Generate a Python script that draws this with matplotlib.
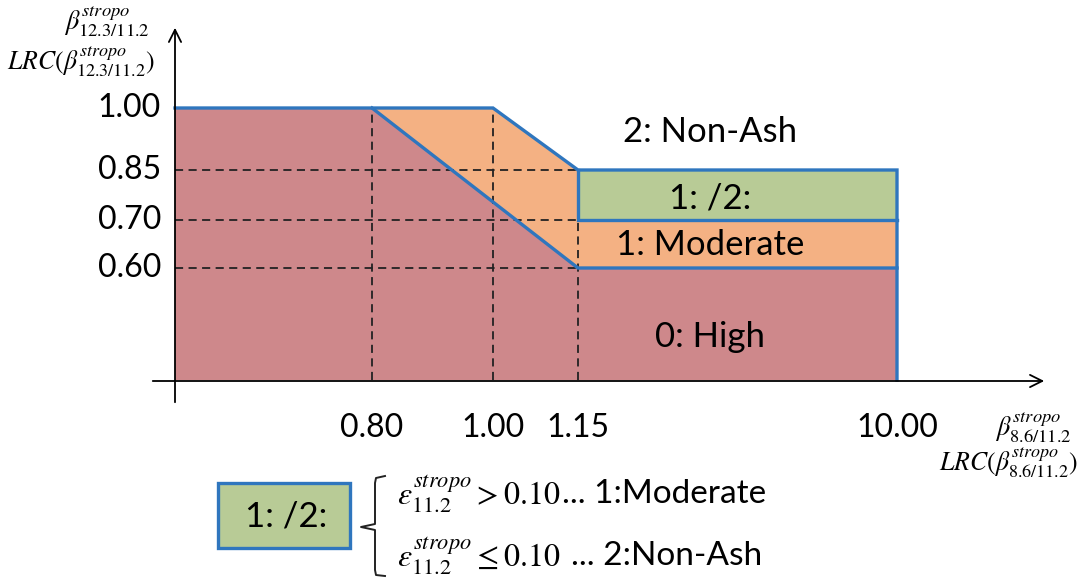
import numpy as np
import matplotlib
matplotlib.use("Agg")
import matplotlib.pyplot as plt

plt.rcParams['font.family'] = ['Lato', 'DejaVu Sans']
plt.rcParams['mathtext.fontset'] = 'stix'

### values of the diagram (schematic thresholds)
x_ticks = [0.80, 1.00, 1.15, 10.00]
y_ticks = [0.60, 0.70, 0.85, 1.00]
x_labels = ['0.80', '1.00', '1.15', '10.00']
y_labels = ['0.60', '0.70', '0.85', '1.00']

# region boundaries (x, y) in threshold units
high_x = [0.0, 0.80, 1.15, 10.00, 10.00, 0.0]
high_y = [1.00, 1.00, 0.60, 0.60, 0.0, 0.0]
mod_x = [0.80, 1.00, 1.15, 1.15, 10.00, 10.00, 1.15]
mod_y = [1.00, 1.00, 0.85, 0.70, 0.70, 0.60, 0.60]
mix_x = [1.15, 10.00, 10.00, 1.15]
mix_y = [0.85, 0.85, 0.70, 0.70]

region_labels = ['2: Non-Ash', '1: /2:', '1: Moderate', '0: High']
label_y = [0.942, 0.766, 0.648, 0.23]

# colours
c_high = '#CE888B'
c_mod = '#F4B183'
c_mix = '#B8CB96'
c_line = '#2F76BE'

W, H = 1083, 583
fig = plt.figure(figsize=(W / 100, H / 100), dpi=100)


def piecewise(d, p):
    d = np.asarray(d, float)
    p = np.asarray(p, float)

    def f(v):
        v = np.asarray(v, float)
        out = np.interp(v, d, p)
        out = np.where(v < d[0], p[0] + (v - d[0]) * (p[1] - p[0]) / (d[1] - d[0]), out)
        out = np.where(v > d[-1], p[-1] + (v - d[-1]) * (p[-1] - p[-2]) / (d[-1] - d[-2]), out)
        return out
    return f


# schematic (non-linear) axis spacing, mapped to figure pixels
x_anchor = [0.0] + x_ticks
x_pix = [175, 372, 493, 578, 897]
y_anchor = [0.0] + y_ticks
y_pix = [H - 380, H - 268, H - 220, H - 170, H - 108]

fx, fx_inv = piecewise(x_anchor, x_pix), piecewise(x_pix, x_anchor)
fy, fy_inv = piecewise(y_anchor, y_pix), piecewise(y_pix, y_anchor)

ax = fig.add_axes([0, 0, 1, 1])
ax.set_xscale('function', functions=(fx, fx_inv))
ax.set_yscale('function', functions=(fy, fy_inv))
ax.set_xlim(float(fx_inv(0)), float(fx_inv(W)))
ax.set_ylim(float(fy_inv(0)), float(fy_inv(H)))
ax.axis('off')

# filled regions
ax.fill(high_x, high_y, color=c_high, lw=0, zorder=1)
ax.fill(mod_x, mod_y, color=c_mod, lw=0, zorder=1)
ax.fill(mix_x, mix_y, color=c_mix, lw=0, zorder=1)

# dashed guide lines
dash = dict(color='#222222', lw=1.3, ls=(0, (4.5, 3)), zorder=2)
for yv in y_ticks[:3]:
    ax.plot([0, x_ticks[2]], [yv, yv], **dash)
ax.plot([x_ticks[0]] * 2, [0, 1.0], **dash)
ax.plot([x_ticks[1]] * 2, [0, 1.0], **dash)
ax.plot([x_ticks[2]] * 2, [0, 0.70], **dash)

# blue boundaries
bl = dict(color=c_line, lw=2.4, zorder=3, solid_joinstyle='miter')
ax.plot([0, 1.00, 1.15, 10.00, 10.00], [1.00, 1.00, 0.85, 0.85, 0.0], **bl)
ax.plot([0.80, 1.15, 10.00], [1.00, 0.60, 0.60], **bl)
ax.plot([1.15, 1.15, 10.00], [0.85, 0.70, 0.70], **bl)

# tick labels
xt = ax.get_xaxis_transform()
yt = ax.get_yaxis_transform()
for v, s in zip(x_ticks, x_labels):
    ax.text(v, 1 - 428 / H, s, transform=xt, ha='center', va='center', fontsize=23)
for v, s in zip(y_ticks, y_labels):
    ax.text(161 / W, v, s, transform=yt, ha='right', va='center', fontsize=23)

# region names
for s, yv in zip(region_labels, label_y):
    ax.text(4.81, yv, s, ha='center', va='center', fontsize=25)

# overlay in pixel coordinates for axes arrows and the legend note
ov = fig.add_axes([0, 0, 1, 1])
ov.set_xlim(0, W)
ov.set_ylim(H, 0)
ov.axis('off')

arr = dict(arrowstyle='->', color='black', lw=1.3, mutation_scale=22)
ov.annotate('', xy=(175, 25), xytext=(175, 405), arrowprops=arr)
ov.annotate('', xy=(1047, 381), xytext=(150, 381), arrowprops=arr)

ov.text(150, 22, r'$\beta_{12.3/11.2}^{stropo}$', ha='right', va='center', fontsize=19)
ov.text(155, 62, r'$LRC(\beta_{12.3/11.2}^{stropo})$', ha='right', va='center', fontsize=18.5)
ov.text(1072, 428, r'$\beta_{8.6/11.2}^{stropo}$', ha='right', va='center', fontsize=19)
ov.text(1078, 463, r'$LRC(\beta_{8.6/11.2}^{stropo})$', ha='right', va='center', fontsize=18.5)

# legend box
ov.add_patch(plt.Rectangle((218, 483), 132, 65, facecolor=c_mix, edgecolor=c_line, lw=2.4))
ov.text(286, 516, region_labels[1], ha='center', va='center', fontsize=25)

# brace
ov.plot([385, 376, 375, 375, 361, 375, 375, 376, 385],
        [476, 478, 483, 524, 527, 530, 570, 575, 576], color='#222222', lw=1.4)

ov.text(397, 494, r'$\varepsilon_{11.2}^{stropo} > 0.10$', ha='left', va='center', fontsize=23)
ov.text(562, 494, '... 1:Moderate', ha='left', va='center', fontsize=24)
ov.text(397, 556, r'$\varepsilon_{11.2}^{stropo} \leq 0.10$', ha='left', va='center', fontsize=23)
ov.text(571, 556, '... 2:Non-Ash', ha='left', va='center', fontsize=24)

plt.savefig('out.png', dpi=100)
